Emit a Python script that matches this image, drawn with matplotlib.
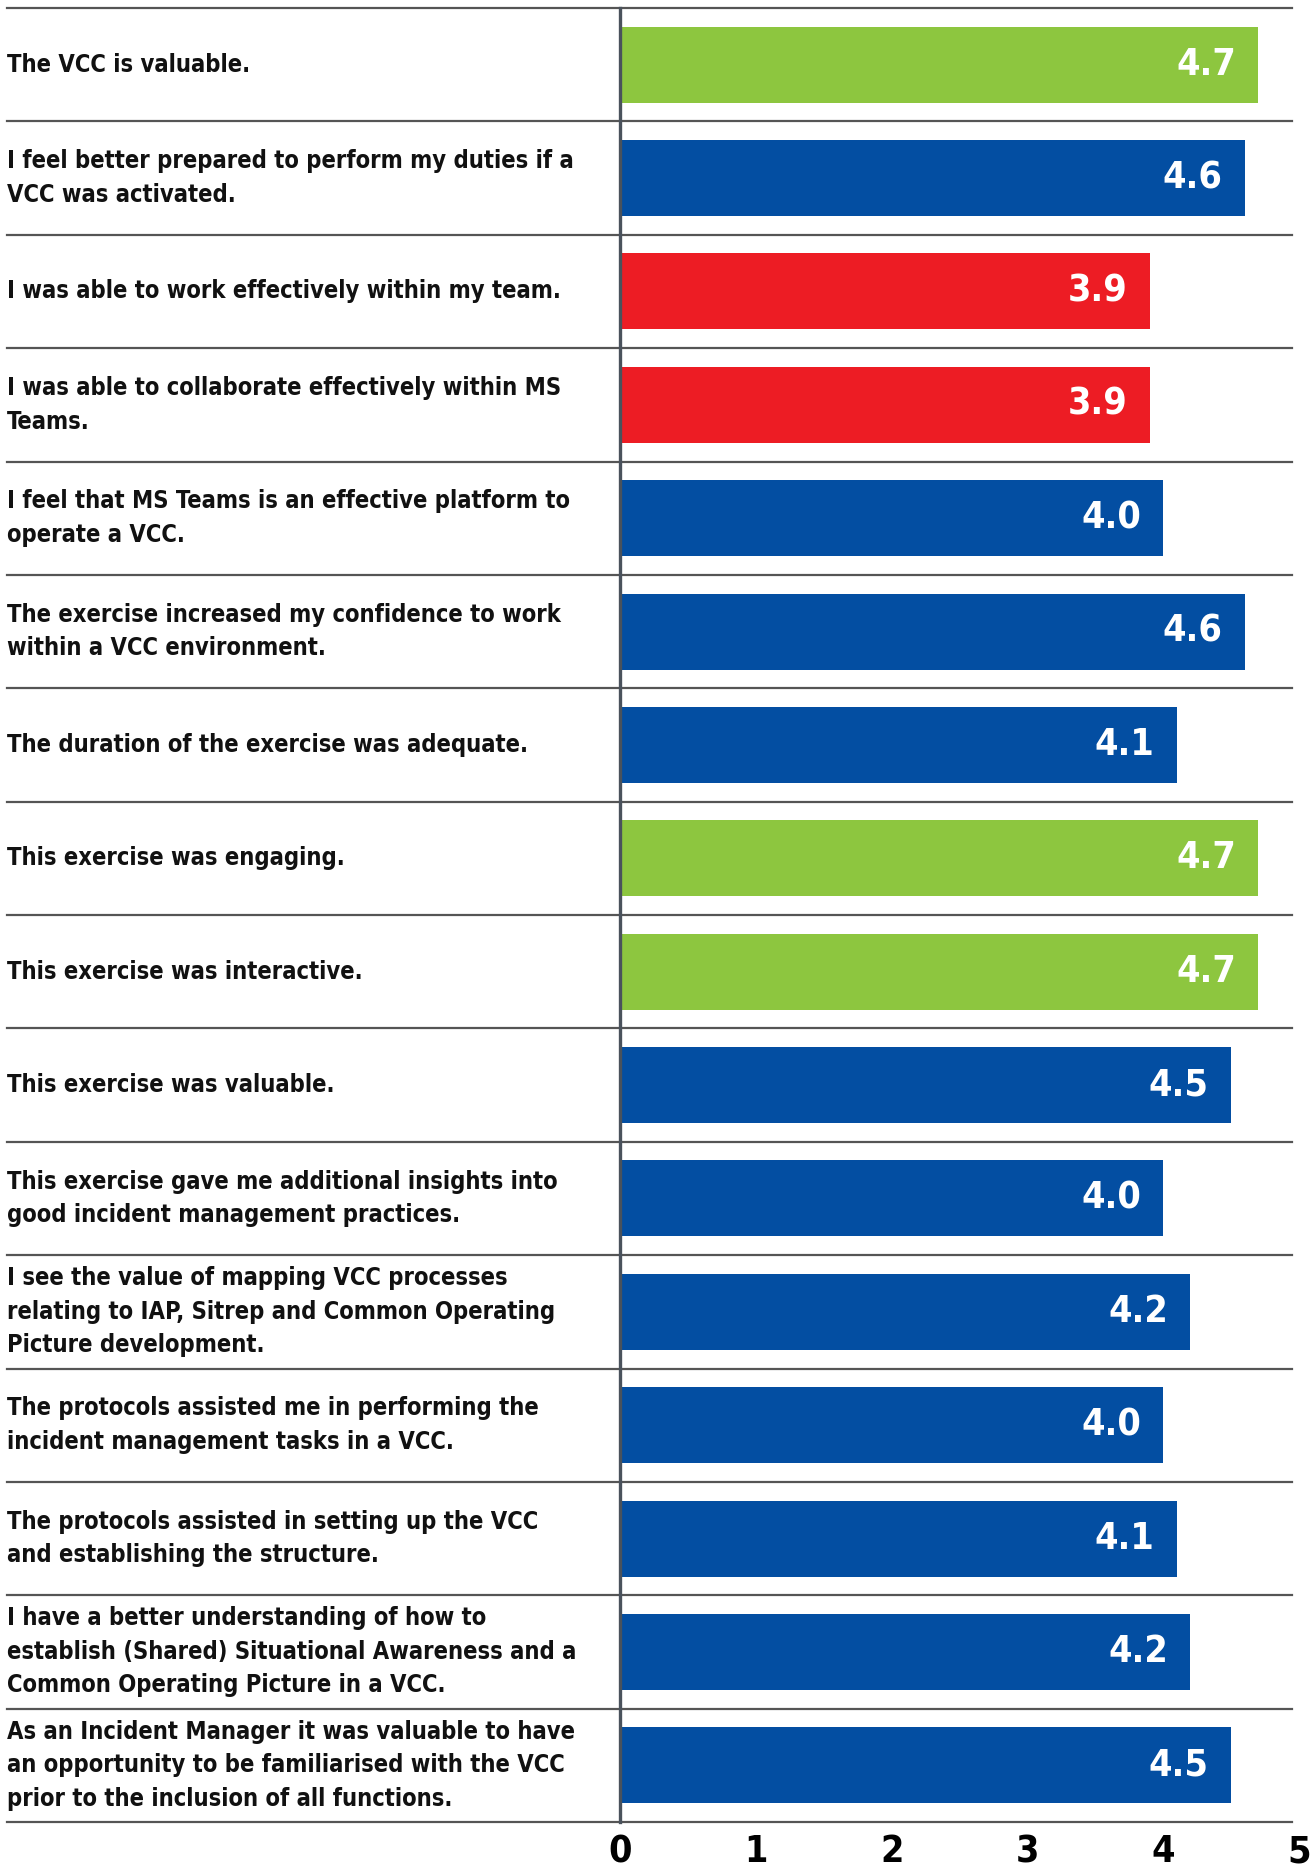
import matplotlib
matplotlib.use("Agg")
import matplotlib.pyplot as plt

# survey statements and mean scores (top to bottom)
statements = [
    "The VCC is valuable.",
    "I feel better prepared to perform my duties if a\nVCC was activated.",
    "I was able to work effectively within my team.",
    "I was able to collaborate effectively within MS\nTeams.",
    "I feel that MS Teams is an effective platform to\noperate a VCC.",
    "The exercise increased my confidence to work\nwithin a VCC environment.",
    "The duration of the exercise was adequate.",
    "This exercise was engaging.",
    "This exercise was interactive.",
    "This exercise was valuable.",
    "This exercise gave me additional insights into\ngood incident management practices.",
    "I see the value of mapping VCC processes\nrelating to IAP, Sitrep and Common Operating\nPicture development.",
    "The protocols assisted me in performing the\nincident management tasks in a VCC.",
    "The protocols assisted in setting up the VCC\nand establishing the structure.",
    "I have a better understanding of how to\nestablish (Shared) Situational Awareness and a\nCommon Operating Picture in a VCC.",
    "As an Incident Manager it was valuable to have\nan opportunity to be familiarised with the VCC\nprior to the inclusion of all functions.",
]
scores = [4.7, 4.6, 3.9, 3.9, 4.0, 4.6, 4.1, 4.7, 4.7, 4.5, 4.0, 4.2, 4.0, 4.1, 4.2, 4.5]
ticks = [0, 1, 2, 3, 4, 5]

GREEN = "#8DC63F"
BLUE = "#034EA2"
RED = "#ED1C24"

def colour(v):
    if v >= 4.7:
        return GREEN
    if v < 4.0:
        return RED
    return BLUE

plt.rcParams["font.family"] = ["DejaVu Sans"]
plt.rcParams["font.stretch"] = "condensed"

fig = plt.figure(figsize=(13.1, 18.68), dpi=100)
W, H = 1310, 1868
x0, x1 = 620, 1299
ytop, ybot = 8, 1822
ax = fig.add_axes([x0 / W, (H - ybot) / H, (x1 - x0) / W, (ybot - ytop) / H])

rows = list(range(len(scores)))
ax.barh(rows, scores, height=0.67, color=[colour(v) for v in scores], zorder=2)
ax.set_xlim(0, 5)
ax.set_ylim(len(scores) - 0.5, -0.5)

# row separators, running under the label column too
left = (7 - x0) / (x1 - x0)
right = (1292 - x0) / (x1 - x0)
for b in [r - 0.5 for r in rows] + [len(scores) - 0.5]:
    ax.axhline(b, xmin=left, xmax=right, color="#555555", lw=1.6,
               clip_on=False, zorder=1)

for i, (s, v) in enumerate(zip(statements, scores)):
    ax.text(left, i, s, transform=ax.get_yaxis_transform(), ha="left",
            va="center", fontsize=17, fontweight="bold", color="#111111",
            linespacing=1.5)
    ax.annotate(f"{v:.1f}", xy=(v, i), xytext=(-16, 0),
                textcoords="offset points", ha="right", va="center",
                fontsize=27, fontweight="bold", color="white", zorder=3)

for sp in ["top", "right", "bottom"]:
    ax.spines[sp].set_visible(False)
ax.spines["left"].set_color("#4a525c")
ax.spines["left"].set_linewidth(2.4)
ax.spines["left"].set_zorder(4)

ax.set_yticks([])
ax.set_xticks(ticks)
ax.set_xticklabels([str(t) for t in ticks], fontsize=27, fontweight="bold")
ax.tick_params(axis="x", length=0, pad=9)

fig.savefig("out.png", dpi=100)
